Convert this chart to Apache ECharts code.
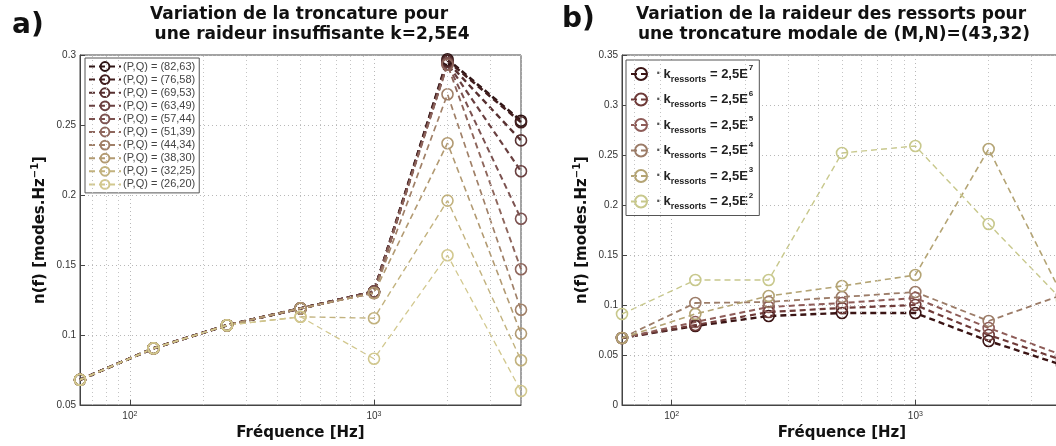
<!DOCTYPE html>
<html>
<head>
<meta charset="utf-8">
<script src="https://cdn.jsdelivr.net/npm/echarts@6/dist/echarts.min.js"></script>
<style>
  html, body { margin: 0; padding: 0; background: #fff; }
  #chart { width: 1056px; height: 446px; }
</style>
</head>
<body>
<div id="chart"></div>
<script>
// Octave band centre frequencies (Hz)
const freqs = [62.5, 125, 250, 500, 1000, 2000, 4000];
// Frequencies of the minor (dotted) vertical grid lines
const minorGridFreqs = [70, 80, 90, 200, 300, 400, 500, 600, 700, 800, 900, 2000, 3000];

// a) modal truncation (P,Q), k = 2,5E4
const truncNames = ['(82,63)', '(76,58)', '(69,53)', '(63,49)', '(57,44)', '(51,39)', '(44,34)', '(38,30)', '(32,25)', '(26,20)'];
const pq8263 = [0.068, 0.0905, 0.107, 0.119, 0.131, 0.297, 0.253];
const pq7658 = [0.068, 0.0905, 0.107, 0.119, 0.131, 0.296, 0.252];
const pq6953 = [0.068, 0.0905, 0.107, 0.119, 0.131, 0.295, 0.239];
const pq6349 = [0.068, 0.0905, 0.107, 0.119, 0.131, 0.294, 0.217];
const pq5744 = [0.068, 0.0905, 0.107, 0.119, 0.131, 0.294, 0.183];
const pq5139 = [0.068, 0.0905, 0.107, 0.119, 0.130, 0.293, 0.147];
const pq4434 = [0.068, 0.0905, 0.107, 0.119, 0.130, 0.272, 0.118];
const pq3830 = [0.068, 0.0905, 0.107, 0.119, 0.130, 0.237, 0.101];
const pq3225 = [0.068, 0.0905, 0.107, 0.113, 0.112, 0.196, 0.082];
const pq2620 = [0.068, 0.0905, 0.107, 0.113, 0.083, 0.157, 0.060];
const truncValues = [pq8263, pq7658, pq6953, pq6349, pq5744, pq5139, pq4434, pq3830, pq3225, pq2620];

// b) spring stiffness, truncation (M,N) = (43,32)
const stiffExponents = [7, 6, 5, 4, 3, 2];
const k25e7 = [0.067, 0.079, 0.089, 0.092, 0.092, 0.064, 0.040];
const k25e6 = [0.067, 0.080, 0.093, 0.097, 0.100, 0.070, 0.045];
const k25e5 = [0.067, 0.083, 0.098, 0.102, 0.107, 0.077, 0.050];
const k25e4 = [0.067, 0.102, 0.103, 0.108, 0.113, 0.084, 0.110];
const k25e3 = [0.067, 0.091, 0.109, 0.119, 0.130, 0.256, 0.110];
const k25e2 = [0.091, 0.125, 0.125, 0.252, 0.259, 0.181, 0.105];
const stiffValues = [k25e7, k25e6, k25e5, k25e4, k25e3, k25e2];

// Colours, dark brown -> pale olive
const truncColors = ['#2e1414', '#421e1e', '#573030', '#6a4040', '#7c5250', '#8e665c', '#a08068', '#b29a72', '#c2b27e', '#d2c88e'];
const truncWidths = [2.6, 2.6, 2.4, 2.2, 2.0, 1.9, 1.7, 1.6, 1.4, 1.3];
const stiffColors = ['#3a1414', '#6e3a38', '#8e5c58', '#9c7c68', '#b4a474', '#c8c88c'];
const stiffWidths = [2.4, 2.2, 2.0, 1.8, 1.6, 1.4];

const FONT = 'DejaVu Sans';
const TICK_FONT = 'Liberation Sans';

const chart = echarts.init(document.getElementById('chart'), null, { renderer: 'canvas' });

const xLabelRich = {
  b: { fontFamily: TICK_FONT, fontSize: 10, color: '#333' },
  s: { fontFamily: TICK_FONT, fontSize: 7, color: '#333', verticalAlign: 'top', lineHeight: 8 }
};

function xAxisCfg(gridIndex) {
  return {
    type: 'log',
    logBase: 10,
    gridIndex: gridIndex,
    min: 62.5,
    max: 4000,
    name: 'Fréquence [Hz]',
    nameLocation: 'middle',
    nameGap: 20,
    nameTextStyle: { fontFamily: FONT, fontWeight: 'bold', fontSize: 15, color: '#111' },
    axisLine: { lineStyle: { color: '#444' } },
    axisTick: { inside: true, length: 5, lineStyle: { color: '#444' } },
    axisLabel: {
      showMinLabel: false,
      showMaxLabel: false,
      margin: 6,
      formatter: function (v) {
        const l = Math.log10(v);
        if (Math.abs(l - Math.round(l)) > 1e-6) return '';
        return '{b|10}{s|' + Math.round(l) + '}';
      },
      rich: xLabelRich
    },
    splitLine: { show: true, lineStyle: { type: [1, 3], color: '#b8b8b8' } }
  };
}

function yAxisCfg(gridIndex, min, max) {
  return {
    type: 'value',
    gridIndex: gridIndex,
    min: min,
    max: max,
    interval: 0.05,
    name: '{a|n(f) [modes.Hz}{s|−1}{a|]}',
    nameLocation: 'middle',
    nameGap: 30,
    nameTextStyle: {
      rich: {
        a: { fontFamily: FONT, fontWeight: 'bold', fontSize: 15, color: '#111', lineHeight: 20 },
        s: { fontFamily: FONT, fontWeight: 'bold', fontSize: 10, color: '#111', verticalAlign: 'top', lineHeight: 12 }
      }
    },
    axisLine: { show: true, lineStyle: { color: '#444' } },
    axisTick: { show: true, inside: true, length: 5, lineStyle: { color: '#444' } },
    axisLabel: { fontFamily: TICK_FONT, fontSize: 10, color: '#333', margin: 4 },
    splitLine: { show: true, lineStyle: { type: [1, 3], color: '#b8b8b8' } }
  };
}

function makeSeries(name, values, color, width, axisIndex) {
  return {
    name: name,
    type: 'line',
    xAxisIndex: axisIndex,
    yAxisIndex: axisIndex,
    data: freqs.map((f, i) => [f, values[i]]),
    symbol: 'circle',
    symbolSize: 11,
    z: 3,
    lineStyle: { color: color, width: width, type: [6, 4] },
    itemStyle: { color: 'rgba(0,0,0,0)', borderColor: color, borderWidth: 1.6 },
    emphasis: { disabled: true },
    animation: false
  };
}

function gridLinesSeries(axisIndex) {
  return {
    name: 'minor-grid-' + axisIndex,
    type: 'line',
    xAxisIndex: axisIndex,
    yAxisIndex: axisIndex,
    data: [],
    z: 1,
    silent: true,
    animation: false,
    markLine: {
      silent: true,
      animation: false,
      symbol: ['none', 'none'],
      label: { show: false },
      lineStyle: { type: [1, 3], color: '#c4c4c4', width: 1 },
      emphasis: { disabled: true },
      data: minorGridFreqs.map(f => ({ xAxis: f }))
    }
  };
}

const truncLegendNames = truncNames.map(n => '(P,Q) = ' + n);
const stiffLegendNames = stiffExponents.map(e => 'k_ressorts = 2,5E' + e);

const series = [gridLinesSeries(0), gridLinesSeries(1)];
truncValues.forEach((vals, i) => {
  series.push(makeSeries(truncLegendNames[i], vals, truncColors[i], truncWidths[i], 0));
});
stiffValues.forEach((vals, i) => {
  series.push(makeSeries(stiffLegendNames[i], vals, stiffColors[i], stiffWidths[i], 1));
});

const titleFont = 'bold 17px "' + FONT + '"';
const option = {
  backgroundColor: '#fff',
  animation: false,
  grid: [
    { left: 80, width: 441, top: 55, bottom: 41, outerBoundsMode: 'none', show: true, borderColor: '#444', borderWidth: 1, backgroundColor: 'transparent' },
    // the right panel runs past the picture's right edge, as in the original figure
    { left: 622, width: 440, top: 55, bottom: 41, outerBoundsMode: 'none', show: true, borderColor: '#444', borderWidth: 1, backgroundColor: 'transparent' }
  ],
  xAxis: [xAxisCfg(0), xAxisCfg(1)],
  yAxis: [yAxisCfg(0, 0.05, 0.3), yAxisCfg(1, 0, 0.35)],
  legend: [
    {
      data: truncLegendNames,
      orient: 'vertical',
      left: 85,
      top: 58,
      itemWidth: 32,
      itemHeight: 11,
      itemGap: 2.1,
      padding: [3, 4, 3, 3],
      backgroundColor: '#fff',
      borderColor: '#555',
      borderWidth: 1,
      borderRadius: 0,
      selectedMode: false,
      textStyle: { fontFamily: TICK_FONT, fontSize: 11, color: '#444', padding: [0, 0, 0, -3] }
    },
    {
      data: stiffLegendNames,
      orient: 'vertical',
      left: 626,
      top: 60,
      itemWidth: 20,
      itemHeight: 15,
      itemGap: 5.5,
      padding: [4, 6, 4, 4],
      backgroundColor: '#fff',
      borderColor: '#555',
      borderWidth: 1,
      borderRadius: 0,
      selectedMode: false,
      formatter: function (name) {
        const e = name.slice(name.lastIndexOf('E') + 1);
        return '{d|·}{k|k}{sub|ressorts}{k| = 2,5E}{sup|' + e + '}';
      },
      textStyle: {
        rich: {
          d: { fontFamily: FONT, fontWeight: 'bold', fontSize: 12, color: '#555', lineHeight: 20, padding: [0, 3, 0, 0] },
          k: { fontFamily: 'Liberation Sans', fontWeight: 'bold', fontSize: 13, color: '#222', lineHeight: 20 },
          sub: { fontFamily: 'Liberation Sans', fontWeight: 'bold', fontSize: 9, color: '#222', verticalAlign: 'bottom', lineHeight: 9 },
          sup: { fontFamily: 'Liberation Sans', fontWeight: 'bold', fontSize: 8, color: '#222', verticalAlign: 'top', lineHeight: 9, padding: [0, 0, 0, 1] }
        }
      }
    }
  ],
  graphic: [
    { type: 'text', x: 12, y: 26, style: { text: 'a)', font: 'bold 28px "' + FONT + '"', fill: '#111', textVerticalAlign: 'middle' } },
    { type: 'text', x: 299, y: 15, style: { text: 'Variation de la troncature pour', font: titleFont, fill: '#111', textAlign: 'center', textVerticalAlign: 'middle' } },
    { type: 'text', x: 312, y: 35, style: { text: 'une raideur insuffisante k=2,5E4', font: titleFont, fill: '#111', textAlign: 'center', textVerticalAlign: 'middle' } },
    { type: 'text', x: 562, y: 20, style: { text: 'b)', font: 'bold 28px "' + FONT + '"', fill: '#111', textVerticalAlign: 'middle' } },
    { type: 'text', x: 831, y: 15, style: { text: 'Variation de la raideur des ressorts pour', font: titleFont, fill: '#111', textAlign: 'center', textVerticalAlign: 'middle' } },
    { type: 'text', x: 834, y: 35, style: { text: 'une troncature modale de (M,N)=(43,32)', font: titleFont, fill: '#111', textAlign: 'center', textVerticalAlign: 'middle' } }
  ],
  series: series
};

chart.setOption(option);
</script>
</body>
</html>
